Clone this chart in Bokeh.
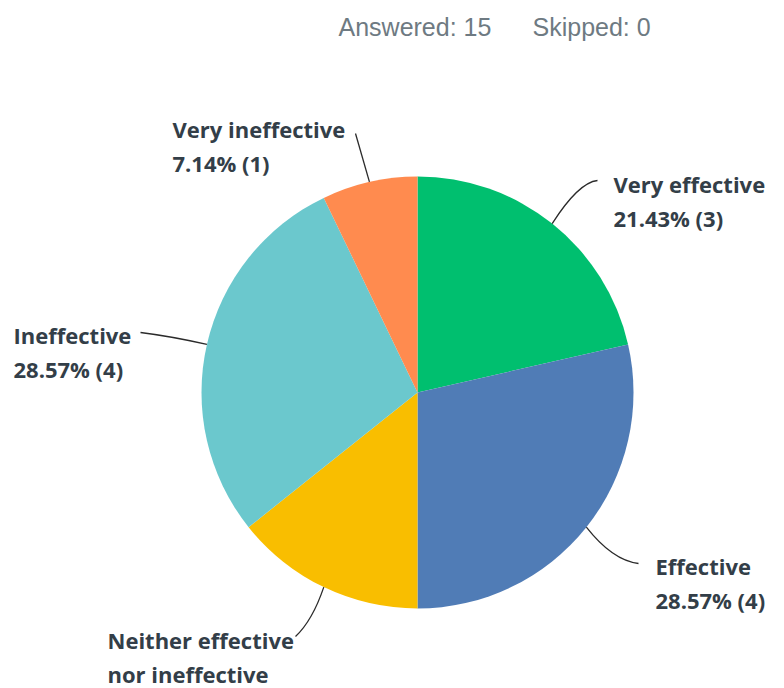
import math
import textwrap
from bokeh.plotting import figure
from bokeh.models import Range1d, ColumnDataSource
from bokeh.core.properties import value
from bokeh.embed import file_html
from bokeh.resources import INLINE

# ---- data ----
categories = ["Very effective", "Effective", "Neither effective nor ineffective",
              "Ineffective", "Very ineffective"]
counts = [3, 4, 2, 4, 1]
percents = [21.43, 28.57, 14.29, 28.57, 7.14]
answered = 15
skipped = 0

# ---- style / layout ----
colors = ["#00BF6F", "#507CB6", "#F9BE00", "#6BC8CD", "#FF8B4F"]
W, H = 768, 688
def X(xs): return xs              # screenshot x -> data x
def Y(ys): return H - ys          # screenshot y -> data y
TEXT_SHIFT = 9                    # compensate baseline rendering offset

cx, cy, R = X(417), Y(392), 216
label_anchor = [(613, 192), (655, 574), (107, 648), (13, 343), (172, 137)]
leader_end = [(597, 180), (638, 563), (295, 636), (140, 332), (355, 133)]
leader_ctrl = [(578, 182), (612, 560), (312, 620), (172, 336), (360, 150)]
line_gap = 34

p = figure(width=W, height=H, x_range=Range1d(0, W), y_range=Range1d(0, H),
           output_backend="svg", toolbar_location=None, min_border=0)
p.axis.visible = False
p.grid.visible = False
p.outline_line_color = None
p.background_fill_color = "white"
p.border_fill_color = "white"

total = sum(counts)
fr = [c / total for c in counts]
starts, ends, mids = [], [], []
cum = 0.0
for f in fr:
    a0 = math.pi / 2 - cum * 2 * math.pi
    cum += f
    a1 = math.pi / 2 - cum * 2 * math.pi
    starts.append(a0); ends.append(a1); mids.append((a0 + a1) / 2)

src = ColumnDataSource(dict(start=starts, end=ends, color=colors, cat=categories))
p.wedge(x=cx, y=cy, radius=R, start_angle="start", end_angle="end",
        direction="clock", fill_color="color", line_color=None, source=src)

# leader lines
x0 = [cx + R * math.cos(m) for m in mids]
y0 = [cy + R * math.sin(m) for m in mids]
p.quadratic(x0=x0, y0=y0,
            x1=[X(e[0]) for e in leader_end], y1=[Y(e[1]) for e in leader_end],
            cx=[X(c[0]) for c in leader_ctrl], cy=[Y(c[1]) for c in leader_ctrl],
            line_color="#2b2b2b", line_width=1.3)

# labels
lx, ly, lt = [], [], []
for cat, cnt, pct, (ax, ay) in zip(categories, counts, percents, label_anchor):
    lines = textwrap.wrap(cat, 17) + [f"{pct:.2f}% ({cnt})"]
    for i, t in enumerate(lines):
        yy = ay + i * line_gap
        if yy < H:
            lx.append(X(ax)); ly.append(Y(yy - TEXT_SHIFT)); lt.append(t)
p.text(x=lx, y=ly, text=lt, text_font=value("Open Sans"), text_font_style="bold",
       text_font_size="22px", text_color="#333E48", text_baseline="alphabetic",
       text_align="left")

# header
p.text(x=[X(338), X(532)], y=[Y(35 - TEXT_SHIFT), Y(35 - TEXT_SHIFT)],
       text=[f"Answered: {answered}", f"Skipped: {skipped}"],
       text_font=value("Liberation Sans"), text_font_size="25px",
       text_color="#6E7A82", text_baseline="alphabetic", text_align="left")

open("out.html", "w").write(file_html(p, INLINE))
